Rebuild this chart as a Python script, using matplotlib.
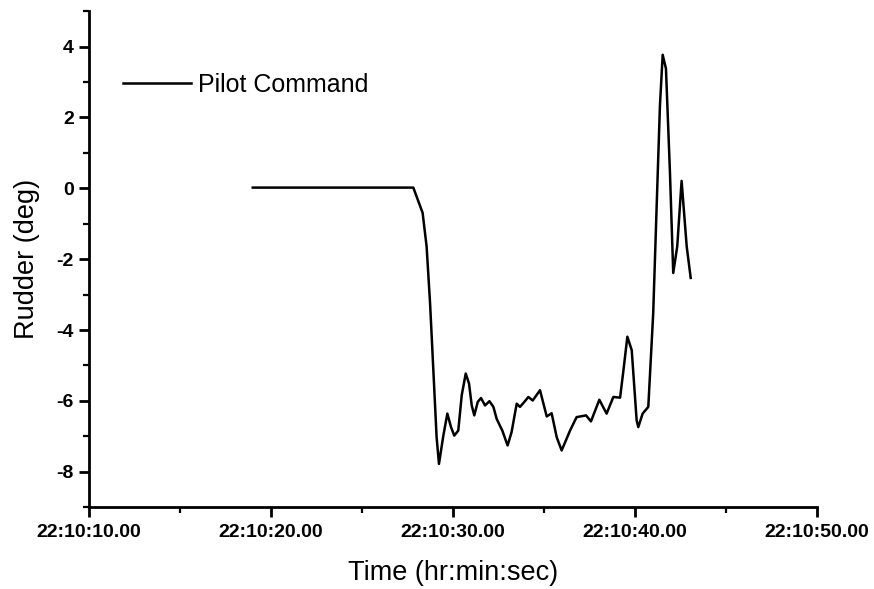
import numpy as np
import matplotlib.pyplot as plt
from matplotlib.ticker import MultipleLocator, FuncFormatter

plt.rcParams['font.family'] = ['Liberation Sans', 'DejaVu Sans']
plt.rcParams['axes.unicode_minus'] = False

# seconds past 22:10:00 and rudder command (deg)
t = [19.0, 27.82, 28.33, 28.55, 28.74, 28.92, 29.10, 29.23, 29.47, 29.69,
     29.89, 30.07, 30.29, 30.48, 30.70, 30.88, 31.03, 31.17, 31.36, 31.54,
     31.76, 32.00, 32.22, 32.40, 32.71, 33.00, 33.22, 33.50, 33.68, 33.92,
     34.14, 34.38, 34.78, 35.15, 35.42, 35.70, 35.97, 36.43, 36.79, 37.31,
     37.58, 38.04, 38.44, 38.81, 39.18, 39.35, 39.58, 39.82, 40.09, 40.18,
     40.42, 40.73, 41.00, 41.19, 41.37, 41.52, 41.70, 41.92, 42.10, 42.32,
     42.56, 42.84, 43.06]
rudder = [0.02, 0.02, -0.69, -1.64, -3.24, -5.13, -7.03, -7.78, -6.98, -6.36,
          -6.74, -6.98, -6.84, -5.84, -5.23, -5.51, -6.13, -6.41, -6.03, -5.92,
          -6.13, -6.01, -6.17, -6.51, -6.84, -7.26, -6.88, -6.08, -6.17, -6.03,
          -5.89, -5.99, -5.70, -6.44, -6.35, -7.03, -7.40, -6.84, -6.46, -6.41,
          -6.58, -5.97, -6.36, -5.89, -5.91, -5.20, -4.19, -4.57, -6.55, -6.74,
          -6.36, -6.17, -3.53, -0.50, 2.33, 3.77, 3.38, 0.45, -2.39, -1.64,
          0.21, -1.64, -2.53]

fig = plt.figure(figsize=(8.74, 5.89), dpi=100)
ax = fig.add_axes([0.1018, 0.139, 0.833, 0.842])

ax.plot(t, rudder, color='black', lw=1.8, solid_joinstyle='round',
        label='Pilot Command')

ax.set_xlim(10, 50)
ax.set_ylim(-9, 5)
ax.xaxis.set_major_locator(MultipleLocator(10))
ax.xaxis.set_minor_locator(MultipleLocator(5))
ax.yaxis.set_major_locator(MultipleLocator(2))
ax.yaxis.set_minor_locator(MultipleLocator(1))
ax.xaxis.set_major_formatter(FuncFormatter(lambda s, pos: f'22:10:{int(round(s)):02d}.00'))

for side in ['top', 'right']:
    ax.spines[side].set_visible(False)
for side in ['left', 'bottom']:
    ax.spines[side].set_linewidth(2.0)

ax.tick_params(which='major', direction='out', length=7, width=2.0, labelsize=14)
ax.tick_params(axis='x', which='major', pad=5)
ax.tick_params(axis='y', which='major', pad=4)
ax.tick_params(which='minor', direction='out', length=4, width=1.6)
for lab in ax.get_xticklabels() + ax.get_yticklabels():
    lab.set_fontweight('bold')

ax.set_xlabel('Time (hr:min:sec)', fontsize=19.5, labelpad=14)
ax.set_ylabel('Rudder (deg)', fontsize=19.5, labelpad=12)

ax.legend(loc='center left', bbox_to_anchor=(0.047, 0.851), frameon=False,
          fontsize=18, handlelength=2.7, handletextpad=0.3,
          borderpad=0, borderaxespad=0)

fig.savefig('out.png', dpi=100)
